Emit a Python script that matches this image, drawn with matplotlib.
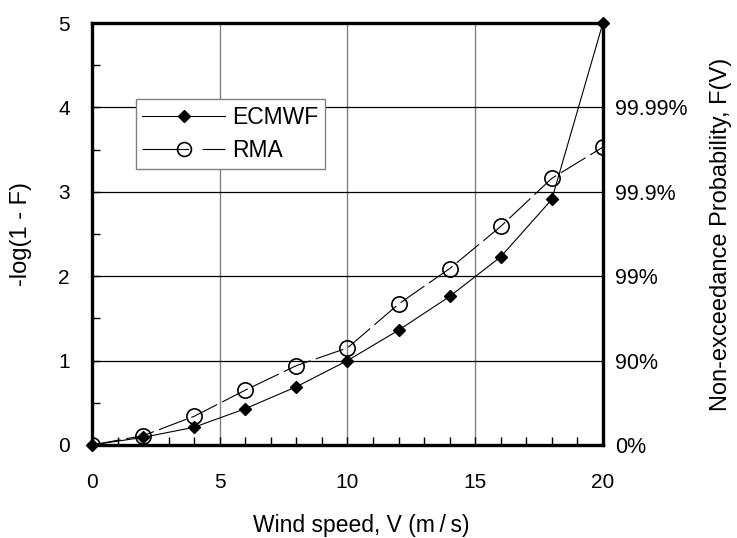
import matplotlib
matplotlib.use("Agg")
import matplotlib.pyplot as plt
from matplotlib.lines import Line2D
from matplotlib.ticker import MultipleLocator

plt.rcParams['font.family'] = ['Liberation Sans', 'DejaVu Sans']

# Wind speed (m/s) and -log10(1-F) for each data source
wind_speed = [0, 2, 4, 6, 8, 10, 12, 14, 16, 18, 20]
ecmwf = [0.0, 0.09, 0.21, 0.43, 0.69, 1.0, 1.36, 1.76, 2.23, 2.91, 5.0]
rma = [0.0, 0.11, 0.34, 0.65, 0.94, 1.15, 1.67, 2.09, 2.59, 3.16, 3.53]

right_ticks = [0, 1, 2, 3, 4]
right_labels = ["0%", "90%", "99%", "99.9%", "99.99%"]

fig = plt.figure(figsize=(7.37, 5.38), dpi=100)
ax = fig.add_axes([0.125, 0.173, 0.693, 0.784])

# grid lines at major ticks
for xv in [5, 10, 15]:
    ax.axvline(xv, color='#808080', lw=1.0, zorder=1)
for yv in [1, 2, 3, 4]:
    ax.axhline(yv, color='black', lw=0.9, zorder=1)

rma_dash = (0, (26, 5))
ax.plot(wind_speed, rma, color='black', lw=0.8, linestyle=rma_dash,
        marker='o', markersize=11, markerfacecolor='none',
        markeredgecolor='black', markeredgewidth=1.2, zorder=3)
ax.plot(wind_speed, ecmwf, color='black', lw=0.8,
        marker='D', markersize=6.5, markerfacecolor='black',
        markeredgecolor='black', zorder=4, clip_on=False)

ax.set_xlim(0, 20)
ax.set_ylim(0, 5)
ax.xaxis.set_major_locator(MultipleLocator(5))
ax.xaxis.set_minor_locator(MultipleLocator(1))
ax.yaxis.set_major_locator(MultipleLocator(1))
ax.yaxis.set_minor_locator(MultipleLocator(0.5))
ax.tick_params(axis='x', which='both', direction='in', length=6, width=1,
               labelsize=15, pad=20, top=False)
ax.tick_params(axis='y', which='both', direction='in', length=6, width=1,
               labelsize=15, pad=16, right=False)

for sp in ax.spines.values():
    sp.set_linewidth(2.4)
    sp.set_zorder(5)

ax.set_xlabel("Wind speed, V (m\u2009/\u2009s)", fontsize=16.5)
ax.xaxis.set_label_coords(0.527, -0.163)
ax.set_ylabel("-log(1 - F)", fontsize=17)
ax.yaxis.set_label_coords(-0.118, 0.5)

ax2 = ax.twinx()
ax2.set_ylim(0, 5)
ax2.set_yticks(right_ticks)
ax2.set_yticklabels(right_labels)
ax2.tick_params(axis='y', length=0, labelsize=15.5, pad=9)
for sp in ax2.spines.values():
    sp.set_visible(False)
ax2.set_ylabel("Non-exceedance Probability, F(V)", fontsize=17, labelpad=16)

handles = [
    Line2D([], [], color='black', lw=0.8, marker='D', markersize=6.5,
           markerfacecolor='black'),
    Line2D([], [], color='black', lw=0.8, linestyle=(0, (42, 12)),
           marker='o', markersize=10, markerfacecolor='none',
           markeredgewidth=1.2),
]
leg = ax.legend(handles, ["ECMWF", "RMA"], loc='upper left',
                bbox_to_anchor=(0.085, 0.82), fontsize=16.5, frameon=True,
                fancybox=False, edgecolor='#808080', framealpha=1,
                handlelength=3.6, handletextpad=0.3, borderpad=0.3,
                labelspacing=0.45, borderaxespad=0)
leg.get_frame().set_linewidth(1.0)

fig.savefig("out.png", dpi=100)
